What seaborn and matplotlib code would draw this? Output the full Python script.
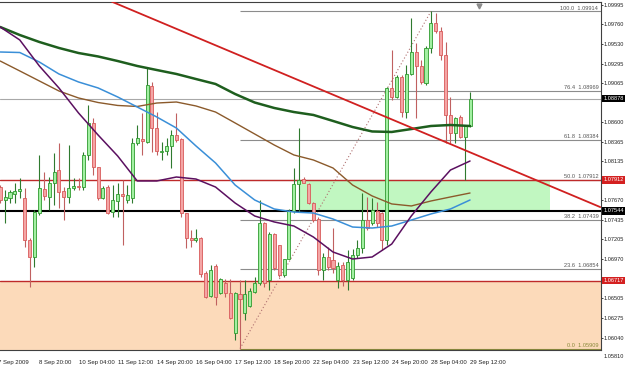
import numpy as np
import pandas as pd
import seaborn as sns
import matplotlib
matplotlib.use('Agg')
import matplotlib.pyplot as plt
import matplotlib.transforms as mtransforms

# H4 candles, bar 0 = 7 Sep, bar 96 = 29 Sep 12:00
opens = [1.07828, 1.07674, 1.07698, 1.07745, 1.07781, 1.07698, 1.07199, 1.06997, 1.07520, 1.07805,
         1.07710, 1.07876, 1.08030, 1.07781, 1.07710, 1.07817, 1.07840, 1.07828, 1.08209, 1.08589,
         1.08066, 1.07698, 1.07828, 1.07531, 1.07662, 1.07745, 1.07674, 1.07698, 1.08351, 1.08399,
         1.08363, 1.09028, 1.08529, 1.08244, 1.08256, 1.08316, 1.08446, 1.08399, 1.07520, 1.07223,
         1.07199, 1.07223, 1.06807, 1.06534, 1.06890, 1.06569, 1.06688, 1.06569, 1.06094, 1.06557,
         1.06332, 1.06415, 1.06581, 1.06688, 1.07401, 1.06724, 1.07270, 1.07139, 1.06783, 1.06973,
         1.07543, 1.07864, 1.07923, 1.07864, 1.07638, 1.07448, 1.06842, 1.06997, 1.06961, 1.06724,
         1.06902, 1.06724, 1.06747, 1.07021, 1.07104, 1.07436, 1.07401, 1.07543, 1.07520, 1.07199,
         1.09005, 1.08898, 1.09135, 1.08719, 1.09171, 1.09432, 1.09266, 1.09064, 1.09480, 1.09777,
         1.09682, 1.09397, 1.08684, 1.08470, 1.08660, 1.08422, 1.08553]
highs = [1.07852, 1.07793, 1.07793, 1.07876, 1.07935, 1.07817, 1.07223, 1.07555, 1.08209, 1.08007,
         1.07947, 1.08232, 1.08351, 1.07828, 1.08327, 1.07935, 1.07935, 1.08244, 1.08803, 1.08648,
         1.08066, 1.07840, 1.07852, 1.07852, 1.07876, 1.07912, 1.07852, 1.08411, 1.08565, 1.08708,
         1.09254, 1.09076, 1.08719, 1.08363, 1.08411, 1.08506, 1.08708, 1.08411, 1.07520, 1.07318,
         1.07330, 1.07234, 1.06831, 1.06902, 1.06914, 1.06747, 1.06735, 1.06735, 1.06581, 1.06724,
         1.06724, 1.06629, 1.06759, 1.07674, 1.07413, 1.07294, 1.07282, 1.07139, 1.06973, 1.07567,
         1.08054, 1.08529, 1.07947, 1.07876, 1.07650, 1.07472, 1.07044, 1.07116, 1.07341, 1.06937,
         1.06937, 1.07080, 1.07092, 1.07199, 1.07757, 1.07710, 1.07698, 1.07650, 1.07531, 1.09016,
         1.09456, 1.09159, 1.09159, 1.09278, 1.09836, 1.09539, 1.09337, 1.09504, 1.09914, 1.09896,
         1.09729, 1.09551, 1.08898, 1.08660, 1.08684, 1.08565, 1.08957]
lows = [1.07638, 1.07401, 1.07638, 1.07638, 1.07698, 1.07116, 1.06640, 1.06878, 1.07496, 1.07674,
        1.07555, 1.07615, 1.07579, 1.07436, 1.07638, 1.07793, 1.07793, 1.07793, 1.08149, 1.07971,
        1.07674, 1.07686, 1.07508, 1.07472, 1.07472, 1.07139, 1.07638, 1.07638, 1.08327, 1.08209,
        1.08351, 1.08244, 1.08209, 1.08149, 1.08209, 1.08054, 1.08363, 1.07472, 1.07104, 1.07116,
        1.07175, 1.06759, 1.06510, 1.06522, 1.06427, 1.06557, 1.06522, 1.06260, 1.06011, 1.05909,
        1.06248, 1.06403, 1.06569, 1.06664, 1.06640, 1.06605, 1.06842, 1.06759, 1.06759, 1.06973,
        1.07520, 1.07531, 1.07876, 1.07626, 1.07413, 1.06783, 1.06724, 1.06842, 1.06807, 1.06629,
        1.06652, 1.06605, 1.06724, 1.06985, 1.07044, 1.07318, 1.07377, 1.07353, 1.07080, 1.07139,
        1.08862, 1.08886, 1.08660, 1.08648, 1.09159, 1.08648, 1.09052, 1.09040, 1.09420, 1.09658,
        1.09337, 1.08351, 1.08351, 1.08351, 1.08411, 1.07912, 1.08541]
closes = [1.07674, 1.07710, 1.07769, 1.07781, 1.07805, 1.07199, 1.06997, 1.07531, 1.07817, 1.07722,
          1.07876, 1.08007, 1.07769, 1.07710, 1.07817, 1.07840, 1.07823, 1.08209, 1.08589, 1.08066,
          1.07698, 1.07817, 1.07520, 1.07674, 1.07745, 1.07727, 1.07733, 1.08351, 1.08411, 1.08375,
          1.09040, 1.08529, 1.08256, 1.08256, 1.08316, 1.08446, 1.08387, 1.07520, 1.07223, 1.07199,
          1.07223, 1.06795, 1.06522, 1.06842, 1.06522, 1.06735, 1.06569, 1.06272, 1.06569, 1.06498,
          1.06557, 1.06593, 1.06688, 1.07401, 1.06688, 1.07270, 1.06866, 1.06783, 1.06973, 1.07543,
          1.07864, 1.07912, 1.07876, 1.07638, 1.07436, 1.06842, 1.06997, 1.06878, 1.06866, 1.06890,
          1.06724, 1.06937, 1.07021, 1.07104, 1.07436, 1.07341, 1.07555, 1.07401, 1.07199, 1.09005,
          1.08898, 1.09135, 1.08719, 1.09171, 1.09432, 1.09266, 1.09076, 1.09480, 1.09777, 1.09682,
          1.09397, 1.08684, 1.08470, 1.08648, 1.08422, 1.08565, 1.08878]

# moving averages, sampled every 4 bars
ma_idx = list(range(0, 97, 4))
ma_green = [1.09729, 1.09634, 1.09551, 1.09480, 1.09420, 1.09379, 1.09325, 1.09266, 1.09218, 1.09171,
            1.09111, 1.09052, 1.08933, 1.08832, 1.08767, 1.08719, 1.08684, 1.08613, 1.08541, 1.08488,
            1.08482, 1.08517, 1.08553, 1.08565, 1.08553]
ma_brown = [1.09325, 1.09207, 1.09088, 1.08969, 1.08886, 1.08832, 1.08797, 1.08785, 1.08826, 1.08838,
            1.08791, 1.08719, 1.08589, 1.08458, 1.08327, 1.08209, 1.08149, 1.08054, 1.07852, 1.07722,
            1.07627, 1.07603, 1.07662, 1.07710, 1.07757]
ma_blue = [1.09432, 1.09426, 1.09313, 1.09171, 1.09076, 1.09005, 1.08898, 1.08779, 1.08660, 1.08529,
           1.08316, 1.08114, 1.07852, 1.07674, 1.07567, 1.07531, 1.07519, 1.07448, 1.07353, 1.07341,
           1.07365, 1.07436, 1.07508, 1.07567, 1.07674]
ma_purple = [1.09729, 1.09575, 1.09266, 1.09005, 1.08708, 1.08446, 1.08197, 1.07900, 1.07900, 1.07947,
             1.07923, 1.07828, 1.07638, 1.07484, 1.07413, 1.07365, 1.07234, 1.07056, 1.06973, 1.06997,
             1.07151, 1.07484, 1.07769, 1.08030, 1.08137]

# fibonacci retracement from bar 49 low to bar 88 high
fib_levels = ['0.0', '23.6', '38.2', '50.0', '61.8', '76.4', '100.0']
fib_prices = [1.05909, 1.06854, 1.07439, 1.07912, 1.08384, 1.08969, 1.09914]
fib_bars = [49, 88]

last_price = 1.08878
black_level = 1.07544
red_levels = [1.07912, 1.06717]
green_box_bars = [61, 112.3]
green_box_prices = [1.07544, 1.07912]
trend_bars = [22.8, 122.6]
trend_prices = [1.1003, 1.0759]

price_ticks = [1.09995, 1.09760, 1.09530, 1.09295, 1.09065, 1.08600, 1.08365, 1.08135,
               1.07670, 1.07435, 1.07205, 1.06970, 1.06505, 1.06275, 1.06040]
time_ticks = [8, 16, 24, 32, 40, 48, 56, 64, 72, 80, 88, 96]
time_labels = ['8 Sep 20:00', '10 Sep 04:00', '11 Sep 12:00', '14 Sep 20:00', '16 Sep 04:00',
               '17 Sep 12:00', '18 Sep 20:00', '22 Sep 04:00', '23 Sep 12:00', '24 Sep 20:00',
               '28 Sep 04:00', '29 Sep 12:00']

#Build the figure
sns.set_style("white")
plt.rcParams['font.family'] = ['Liberation Sans', 'DejaVu Sans']

fig = plt.figure(figsize=(6.25, 3.72), dpi=100)
ax = fig.add_axes([0, 22 / 372, 601 / 625, 348 / 372])
ax.set_xlim(-0.04, 122.76)
ax.set_ylim(1.05892, 1.10026)

#Zones
ax.axhspan(1.05, red_levels[1], color='#fcdaba', lw=0, zorder=0)
ax.fill_between(green_box_bars, green_box_prices[0], green_box_prices[1], color='#c1f7c1', lw=0, zorder=0)

#Fibonacci
for lev, p in zip(fib_levels, fib_prices):
    col = '#8a8a3c' if lev == '0.0' else '#8c8c8c'
    ax.hlines(p, fib_bars[0], 130, color=col, lw=0.8, zorder=1)
    ax.annotate(lev + '  ' + '%.5f' % p, xy=(122.2, p), xytext=(0, 0.6), textcoords='offset points',
                ha='right', va='bottom', fontsize=4.1, color='#8a8a3c' if lev == '0.0' else '#555555')
ax.plot(fib_bars, [fib_prices[0], fib_prices[-1]], ls=(0, (1, 2)), color='#b07070', lw=0.8, zorder=1)

#Horizontal levels
ax.axhline(last_price, color='#a8a8a8', lw=0.8, zorder=1)
for p in red_levels:
    ax.axhline(p, color='#be2a2a', lw=1.0, zorder=2)
ax.axhline(black_level, color='black', lw=1.5, zorder=2)

#Candles
for i in range(len(opens)):
    o, h, l, c = opens[i], highs[i], lows[i], closes[i]
    if c >= o:
        fill, edge, wick = '#a2f0a2', '#2f9a2f', '#2f7a2f'
    else:
        fill, edge, wick = '#f4a5a5', '#d85a5a', '#c06060'
    ax.vlines(i, l, h, color=wick, lw=0.8, zorder=3)
    ax.bar(i, abs(c - o), bottom=min(o, c), width=0.62, color=fill, edgecolor=edge, lw=0.6, zorder=3)

#Moving averages
sns.lineplot(x=ma_idx, y=ma_green, ax=ax, color='#1e5e1e', lw=1.8, zorder=4)
sns.lineplot(x=ma_idx, y=ma_brown, ax=ax, color='#8b5a2b', lw=1.0, zorder=4)
sns.lineplot(x=ma_idx, y=ma_blue, ax=ax, color='#3a8fd8', lw=1.1, zorder=4)
sns.lineplot(x=ma_idx, y=ma_purple, ax=ax, color='#5b1060', lw=1.1, zorder=4)

#Trend line
ax.plot(trend_bars, trend_prices, color='#d02020', lw=1.3, zorder=5)

#Axis
ax.yaxis.tick_right()
ax.set_yticks(price_ticks)
ax.set_yticklabels(['%.5f' % p for p in price_ticks])
ax.tick_params(axis='y', labelsize=4.1, length=1.2, width=0.6, pad=0.8, colors='#222222')
ax.set_xticks(time_ticks)
ax.set_xticklabels(time_labels, ha='left')
ax.tick_params(axis='x', labelsize=4.3, length=2.5, width=0.6, pad=4.5, colors='#222222')
ax.set_xlabel('')
ax.set_ylabel('')
for s in ['top', 'right', 'bottom']:
    ax.spines[s].set_color('#404040')
    ax.spines[s].set_linewidth(0.8)
ax.spines['left'].set_visible(False)

trans = mtransforms.blended_transform_factory(ax.transAxes, ax.transData)
ax.annotate('7 Sep 2009', xy=(-0.004, 0), xycoords='axes fraction', xytext=(0, -7),
            textcoords='offset points', ha='left', va='top', fontsize=4.3, color='#222222',
            annotation_clip=False)
ax.annotate('1.05810', xy=(1, 1.05810), xycoords=trans, xytext=(1.6, 0), textcoords='offset points',
            ha='left', va='center', fontsize=4.1, color='#222222', annotation_clip=False)
for p, bg in [(last_price, 'black'), (black_level, 'black'), (red_levels[0], '#d42020'), (red_levels[1], '#d42020')]:
    ax.annotate('%.5f' % p, xy=(1, p), xycoords=trans, xytext=(1.6, 0), textcoords='offset points',
                ha='left', va='center', fontsize=4.1, color='white', annotation_clip=False, zorder=10,
                bbox=dict(boxstyle='square,pad=0.2', fc=bg, ec='none'))

#Chart shift marker
trans2 = mtransforms.blended_transform_factory(ax.transData, ax.transAxes)
ax.plot([97.8], [0.988], marker='v', ms=3.5, color='#8c8c8c', transform=trans2, clip_on=False, zorder=6)

fig.savefig('out.png', dpi=100)
